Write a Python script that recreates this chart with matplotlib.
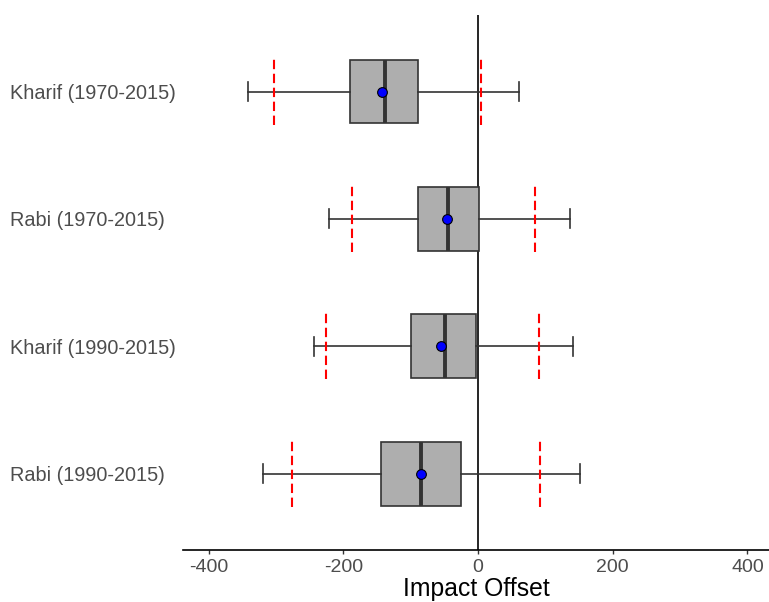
import matplotlib.pyplot as plt

plt.rcParams['font.family'] = ['Liberation Sans', 'DejaVu Sans']
plt.rcParams['axes.unicode_minus'] = False

labels = ['Rabi (1990-2015)', 'Kharif (1990-2015)', 'Rabi (1970-2015)', 'Kharif (1970-2015)']
whislo = [-319, -244, -222, -341]
q1 = [-144, -99, -89, -190]
med = [-84, -49, -44, -138]
q3 = [-25, -3, 1, -89]
whishi = [151, 141, 136, 61]
means = [-85, -55, -46, -143]
ci_lo = [-276, -225, -187, -303]
ci_hi = [92, 90, 84, 4]

fig, ax = plt.subplots(figsize=(7.69, 6.02), dpi=100)
fig.subplots_adjust(left=0.238, right=1.0, top=0.975, bottom=0.086)

pos = list(range(1, len(labels) + 1))
stats = []
for i in range(len(labels)):
    stats.append(dict(label=labels[i], whislo=whislo[i], q1=q1[i], med=med[i],
                      q3=q3[i], whishi=whishi[i], mean=means[i], fliers=[]))

ax.axvline(0, color='black', lw=1.2, zorder=1)

ax.bxp(stats, positions=pos, vert=False, widths=0.5, patch_artist=True,
       showmeans=True, showcaps=True,
       boxprops=dict(facecolor='#AEAEAE', edgecolor='#333333', lw=1.2),
       medianprops=dict(color='#333333', lw=2.8),
       whiskerprops=dict(color='#333333', lw=1.2),
       capprops=dict(color='#333333', lw=1.2),
       capwidths=0.15,
       meanprops=dict(marker='o', markerfacecolor='#0000FF', markeredgecolor='black',
                      markersize=7, markeredgewidth=0.8),
       zorder=3)

# red dashed interval markers
ax.vlines(ci_lo, [p - 0.26 for p in pos], [p + 0.26 for p in pos],
          colors='red', linestyles=(0, (4.5, 2.2)), lw=1.5, zorder=4)
ax.vlines(ci_hi, [p - 0.26 for p in pos], [p + 0.26 for p in pos],
          colors='red', linestyles=(0, (4.5, 2.2)), lw=1.5, zorder=4)

ax.set_xlim(-438, 432)
ax.set_ylim(0.4, 4.6)
ax.set_xticks([-400, -200, 0, 200, 400])
ax.set_yticks(pos)
ax.set_yticklabels(labels)
# left-aligned category labels starting near the figure edge
ax.tick_params(axis='y', length=0, pad=124.5, labelsize=14.3, labelcolor='#4D4D4D')
for t in ax.get_yticklabels():
    t.set_ha('left')
ax.tick_params(axis='x', length=3, width=1, color='#333333', labelsize=14, labelcolor='#4D4D4D', pad=3)
ax.set_xlabel('Impact Offset', fontsize=17.8, color='black', labelpad=1)

for s in ['top', 'right', 'left']:
    ax.spines[s].set_visible(False)
ax.spines['bottom'].set_linewidth(1.2)

fig.savefig('out.png', dpi=100)
